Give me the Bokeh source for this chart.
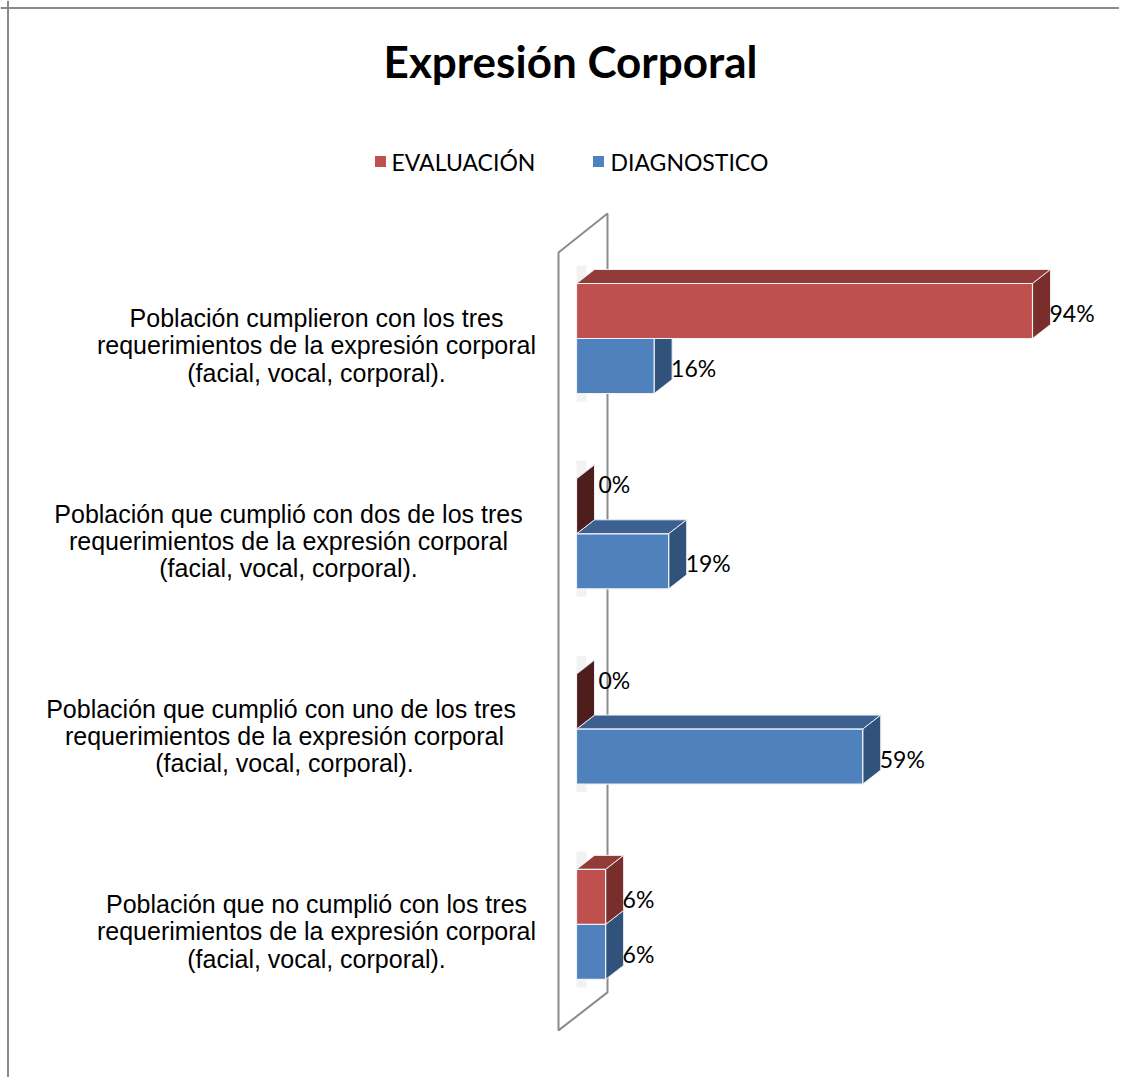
from bokeh.plotting import figure
from bokeh.models import Range1d, Span
from bokeh.embed import file_html
from bokeh.resources import INLINE
from bokeh.core.properties import value

# ---------------- data ----------------
title_text = "Expresión Corporal"
series_names = ["EVALUACIÓN", "DIAGNOSTICO"]
categories = [
    "Población cumplieron con los tres\nrequerimientos de la expresión corporal\n(facial, vocal, corporal).",
    "Población que cumplió con dos de los tres\nrequerimientos de la expresión corporal\n(facial, vocal, corporal).",
    "Población que cumplió con uno de los  tres\nrequerimientos de la expresión corporal\n(facial, vocal, corporal).",
    "Población que no cumplió con los tres\nrequerimientos de la expresión corporal\n(facial, vocal, corporal).",
]
evaluacion = [94, 0, 0, 6]
diagnostico = [16, 19, 59, 6]

# ---------------- layout / style ----------------
W, H = 1119, 1077
SX = 4.851      # screen px per percent
SY = 195.3      # screen px per category step
X0_PX = 576     # frame px of 0 %
C0_PX = 338     # frame px of first category centre
n = len(categories)
y_cat = [n - 1 - i for i in range(n)]
y_top = (n - 1) + C0_PX / SY

def dx(px):
    return px / SX

def dy(px):
    return px / SY

def page_x(px):
    return (px - X0_PX) / SX

def page_y(py):
    return y_top - py / SY

p = figure(width=W, height=H, output_backend="svg", toolbar_location=None,
           x_range=Range1d(-X0_PX / SX, (W - X0_PX) / SX),
           y_range=Range1d(y_top - H / SY, y_top),
           x_axis_type=None, y_axis_type=None, min_border=0,
           outline_line_color=None, background_fill_color="white",
           border_fill_color="white")
p.grid.visible = False

# chart border (top and left visible in the reference)
p.add_layout(Span(location=page_y(7.5), dimension="width", line_color="#8a8a8a", line_width=2))
p.add_layout(Span(location=page_x(7.5), dimension="height", line_color="#8a8a8a", line_width=2))

# ---------------- wall ----------------
wf, wb = dx(-18), dx(31)
w_top_f = y_cat[0] + dy(86)
w_top_b = y_cat[0] + dy(125)
w_bot_f = y_cat[-1] - dy(106)
w_bot_b = y_cat[-1] - dy(68)
p.patch(x=[wf, wb, wb, wf], y=[w_top_f, w_top_b, w_bot_b, w_bot_f],
        fill_color="white", line_color="#8c8c8c", line_width=2)

# soft shadows on the wall behind each bar
BH = dy(55)
DX, DY = dx(18), dy(14)
for yc in y_cat:
    p.quad(left=[0], right=[dx(10)], bottom=[yc - BH - dy(8)], top=[yc + BH + DY + dy(4)],
           fill_color="#d9d9d9", fill_alpha=0.35, line_color=None)

# ---------------- bars ----------------
series = [
    (diagnostico, "#4f81bd", "#3c6190", "#31527b", "#31527b", -1),
    (evaluacion, "#c0504d", "#923b39", "#7a2e2c", "#4e1e1d", 0),
]
for vals, front, topc, side, zero_side, off in series:
    bottoms = [yc + off * BH for yc in y_cat]
    tops = [b + BH for b in bottoms]
    top_xs = [[0, v, v + DX, DX] for v in vals]
    top_ys = [[t, t, t + DY, t + DY] for t in tops]
    side_xs = [[v, v + DX, v + DX, v] for v in vals]
    side_ys = [[b, b + DY, t + DY, t] for b, t in zip(bottoms, tops)]
    side_cols = [zero_side if v == 0 else side for v in vals]
    p.patches(xs=top_xs, ys=top_ys, fill_color=topc, line_color="#e8ecf2", line_width=1)
    p.patches(xs=side_xs, ys=side_ys, fill_color=side_cols, line_color="#e8ecf2", line_width=1)
    p.quad(left=[0] * n, right=vals, bottom=bottoms, top=tops,
           fill_color=front, line_color="#eef1f6", line_width=1.2)

    lx = [v + dx(17) if v > 0 else dx(22) for v in vals]
    ly = [b + BH / 2 - dy(2) if v > 0 else b + BH / 2 + dy(22) for v, b in zip(vals, bottoms)]
    p.text(x=lx, y=ly, text=[f"{v}%" for v in vals], text_font=value("Lato"),
           text_font_size="23px", text_color="black", text_align="left",
           text_baseline="middle")

# ---------------- category labels ----------------
label_centers_px = [316, 288, 284, 316]
p.text(x=[page_x(c) for c in label_centers_px], y=[yc - dy(7) for yc in y_cat],
       text=categories, text_font=value("Liberation Sans"), text_font_size="25px",
       text_color="black", text_align="center", text_baseline="middle",
       text_line_height=0.97)

# ---------------- title ----------------
p.text(x=[page_x(570)], y=[page_y(60)], text=[title_text], text_font=value("Lato"),
       text_font_style="bold", text_font_size="44px", text_color="black",
       text_align="center", text_baseline="middle")

# ---------------- legend ----------------
leg_sq_x = [380, 598]
leg_tx_x = [391, 610]
leg_cols = ["#c0504d", "#4f81bd"]
p.rect(x=[page_x(v) for v in leg_sq_x], y=[page_y(161)] * 2, width=11, height=11,
       width_units="screen", height_units="screen", fill_color=leg_cols, line_color=None)
p.text(x=[page_x(v) for v in leg_tx_x], y=[page_y(161)] * 2, text=series_names,
       text_font=value("Lato"), text_font_size="23px", text_color="black",
       text_align="left", text_baseline="middle")

open("out.html", "w").write(file_html(p, INLINE))
